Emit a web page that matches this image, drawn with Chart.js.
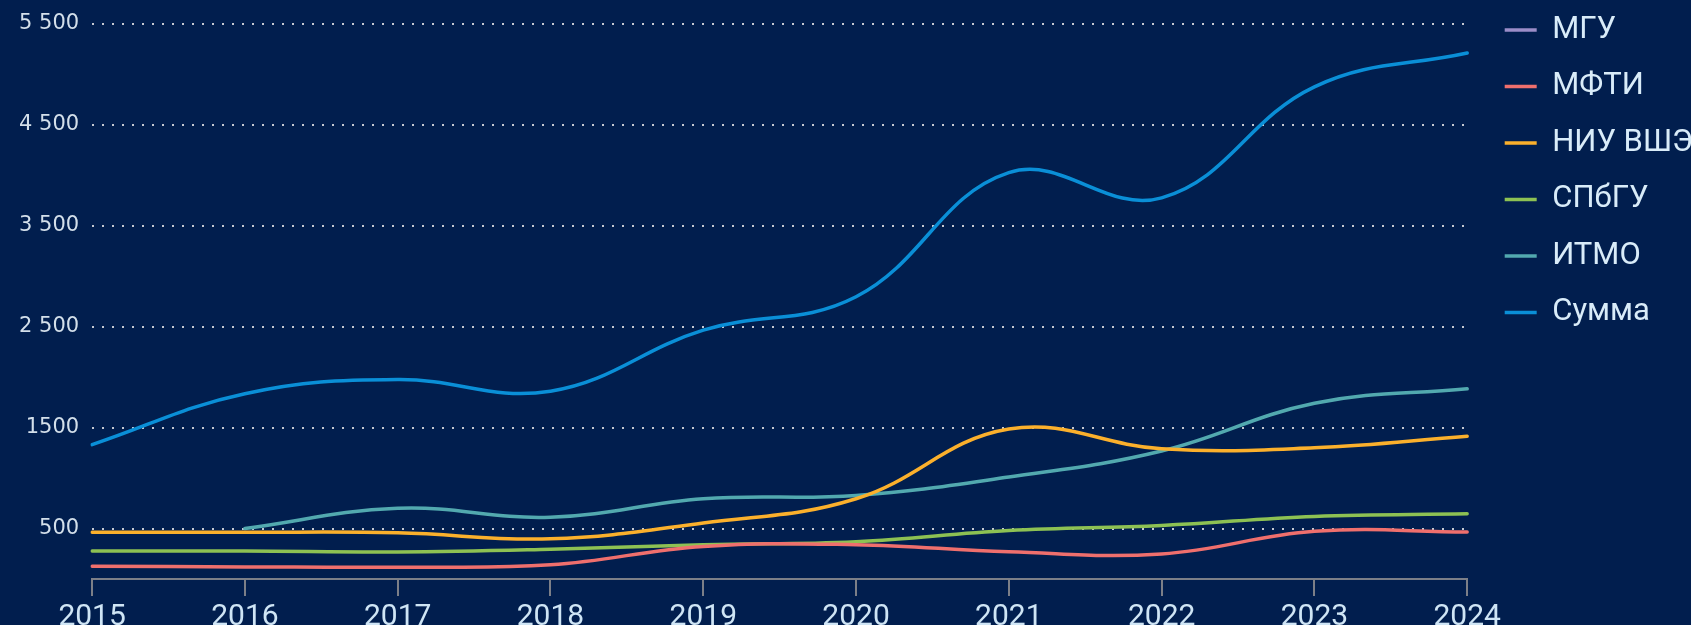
<!DOCTYPE html>
<html lang="ru">
<head>
<meta charset="utf-8">
<script src="https://cdn.jsdelivr.net/npm/chart.js@4.4.1/dist/chart.umd.min.js"></script>
<style>
  html, body { margin: 0; padding: 0; background: #011e4e; overflow: hidden; }
  #wrap { position: relative; width: 1691px; height: 625px; overflow: hidden; }
  #chart { position: absolute; left: 0; top: -13px; }
</style>
</head>
<body>
<div id="wrap"><canvas id="chart" width="1691" height="651"></canvas></div>
<script>
// years on the x axis
const years = ['2015', '2016', '2017', '2018', '2019', '2020', '2021', '2022', '2023', '2024'];

// values per university
const mgu = [null, null, null, null, null, null, null, null, null, null];
const mfti = [127, 120, 117, 140, 323, 340, 270, 248, 472, 465];
const hse = [463, 463, 458, 398, 555, 795, 1485, 1290, 1300, 1415];
const spbgu = [277, 277, 268, 295, 340, 370, 480, 530, 620, 646];
const itmo = [null, 500, 700, 612, 795, 828, 1010, 1268, 1740, 1884];
const total = [1331, 1835, 1975, 1860, 2465, 2795, 4025, 3775, 4875, 5210];

// y axis ticks and how they are printed
const yTicks = [500, 1500, 2500, 3500, 4500, 5500];
const yTickLabels = ['500', '1500', '2 500', '3 500', '4 500', '5 500'];

const series = [
  { label: 'МГУ', data: mgu, color: '#9b8dc8' },
  { label: 'МФТИ', data: mfti, color: '#ef6f6d' },
  { label: 'НИУ ВШЭ', data: hse, color: '#fbb02c' },
  { label: 'СПбГУ', data: spbgu, color: '#8dc153' },
  { label: 'ИТМО', data: itmo, color: '#52a9af' },
  { label: 'Сумма', data: total, color: '#0a8fd7' },
];

Chart.defaults.font.family = 'Roboto';

// the legend sits a little further right / lower than chart.js puts it
const legendShift = {
  id: 'legendShift',
  afterLayout(chart) {
    chart.legend.left += 12;
    chart.legend.right += 12;
    chart.legend.top += 2;
    chart.legend.bottom += 2;
  }
};

new Chart(document.getElementById('chart'), {
  type: 'line',
  data: {
    labels: years,
    datasets: series.map(s => ({
      label: s.label,
      data: s.data,
      borderColor: s.color,
      backgroundColor: s.color,
      borderWidth: 3.5,
      borderCapStyle: 'round',
      tension: 0.4,
      pointRadius: 0,
      pointHoverRadius: 0,
    })),
  },
  options: {
    responsive: false,
    animation: false,
    layout: { padding: { left: 6, top: 0, right: 0, bottom: 0 } },
    plugins: {
      tooltip: { enabled: false },
      legend: {
        position: 'right',
        align: 'start',
        labels: {
          color: '#d9ecf9',
          font: { family: 'Roboto', size: 31 },
          usePointStyle: true,
          pointStyle: 'line',
          pointStyleWidth: 32,
          padding: 25.5,
        },
      },
    },
    scales: {
      x: {
        offset: false,
        border: { display: true, color: '#7c7f88', width: 2 },
        grid: {
          drawOnChartArea: false,
          drawTicks: true,
          tickLength: 17,
          color: '#7c7f88',
          lineWidth: 2,
        },
        ticks: {
          color: '#cfe5f5',
          font: { family: 'Roboto', size: 30 },
          padding: 3,
          maxRotation: 0,
        },
      },
      y: {
        min: 0,
        max: 5610,
        afterBuildTicks: (scale) => {
          scale.ticks = yTicks.map(v => ({ value: v }));
        },
        grid: {
          drawTicks: false,
          color: '#c5c9d2',
          lineWidth: 2,
        },
        border: { display: false, dash: [2, 8] },
        ticks: {
          color: '#d3dfea',
          font: { family: 'DejaVu Sans', size: 21 },
          padding: 13,
          callback: (value) => yTickLabels[yTicks.indexOf(value)],
        },
      },
    },
  },
  plugins: [legendShift],
});
</script>
</body>
</html>
